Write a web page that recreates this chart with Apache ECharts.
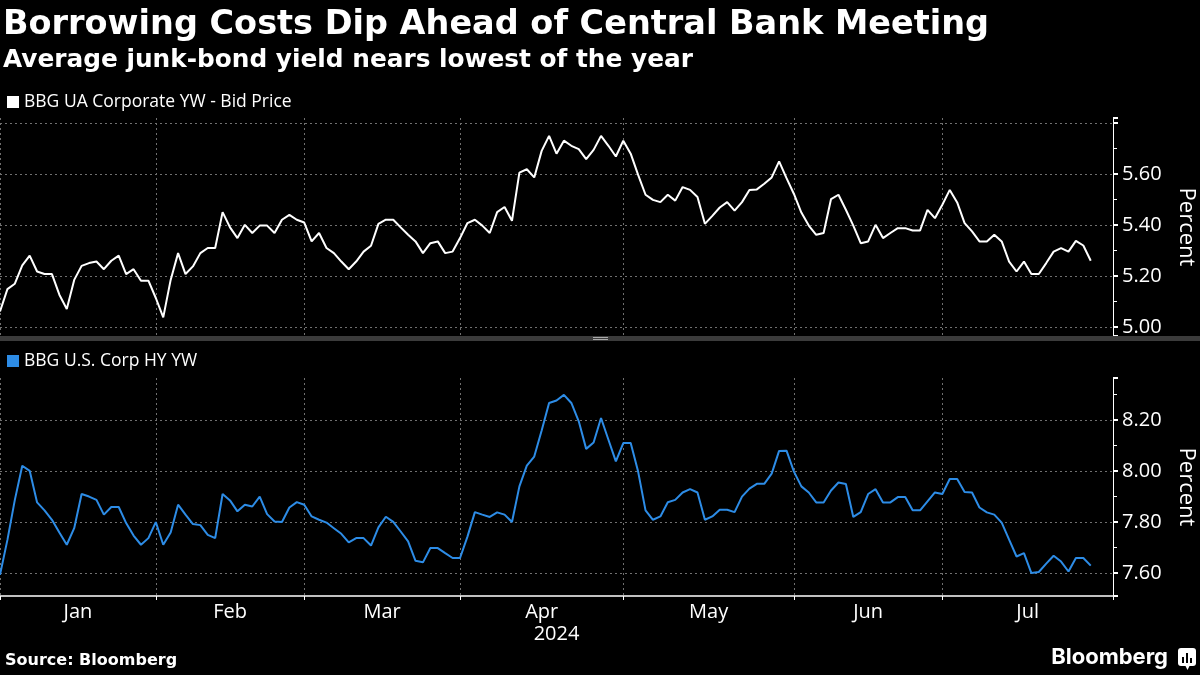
<!DOCTYPE html>
<html>
<head>
<meta charset="utf-8">
<script src="https://cdn.jsdelivr.net/npm/echarts@6/dist/echarts.min.js"></script>
<style>
html,body{margin:0;padding:0;background:#000;}
#chart{width:1200px;height:675px;}
</style>
</head>
<body>
<div id="chart"></div>
<script>
// ---------- data ----------
const chartTitle = 'Borrowing Costs Dip Ahead of Central Bank Meeting';
const chartSubtitle = 'Average junk-bond yield nears lowest of the year';
const sourceText = 'Source: Bloomberg';
const seriesNames = ['BBG UA Corporate YW - Bid Price', 'BBG U.S. Corp HY YW'];
const monthLabels = ['Jan', 'Feb', 'Mar', 'Apr', 'May', 'Jun', 'Jul'];
const yearLabel = '2024';
const topTickLabels = [5.0, 5.2, 5.4, 5.6];
const bottomTickLabels = [7.6, 7.8, 8.0, 8.2];
const holidays = ['2024-01-01', '2024-01-15', '2024-02-19', '2024-07-04'];
const axisDays = 151; // trading-day slots shown on the x axis

// BBG UA Corporate YW (percent), one value per trading day from 2 Jan 2024
const uaYield = [
  5.061, 5.149, 5.170, 5.242, 5.280, 5.218, 5.208, 5.208, 5.127, 5.071,
  5.185, 5.240, 5.251, 5.257, 5.227, 5.260, 5.280, 5.208, 5.227, 5.182,
  5.182, 5.114, 5.038, 5.185, 5.290, 5.208, 5.238, 5.290, 5.310, 5.310,
  5.451, 5.391, 5.349, 5.401, 5.369, 5.398, 5.398, 5.369, 5.421, 5.440,
  5.421, 5.410, 5.336, 5.369, 5.310, 5.290, 5.257, 5.227, 5.257, 5.296,
  5.319, 5.405, 5.421, 5.421, 5.391, 5.362, 5.336, 5.290, 5.329, 5.336,
  5.290, 5.296, 5.349, 5.408, 5.421, 5.398, 5.369, 5.451, 5.471, 5.417,
  5.606, 5.619, 5.587, 5.691, 5.750, 5.680, 5.731, 5.711, 5.698, 5.659,
  5.695, 5.750, 5.711, 5.669, 5.731, 5.680, 5.597, 5.519, 5.499, 5.490,
  5.519, 5.496, 5.549, 5.538, 5.510, 5.405, 5.436, 5.469, 5.490, 5.457,
  5.490, 5.538, 5.540, 5.562, 5.587, 5.650, 5.584, 5.522, 5.449, 5.398,
  5.362, 5.369, 5.502, 5.519, 5.460, 5.398, 5.329, 5.336, 5.401, 5.349,
  5.369, 5.388, 5.388, 5.379, 5.379, 5.460, 5.427, 5.480, 5.538, 5.489,
  5.408, 5.375, 5.336, 5.336, 5.362, 5.336, 5.257, 5.218, 5.257, 5.208,
  5.208, 5.251, 5.296, 5.310, 5.296, 5.338, 5.320, 5.260
];

// BBG U.S. Corp HY YW (percent)
const hyYield = [
  7.593, 7.730, 7.887, 8.021, 8.001, 7.877, 7.846, 7.809, 7.759, 7.711,
  7.776, 7.910, 7.900, 7.887, 7.829, 7.859, 7.859, 7.796, 7.747, 7.711,
  7.737, 7.800, 7.711, 7.759, 7.868, 7.829, 7.792, 7.788, 7.750, 7.737,
  7.910, 7.885, 7.842, 7.868, 7.861, 7.900, 7.831, 7.802, 7.800, 7.857,
  7.878, 7.868, 7.822, 7.809, 7.798, 7.776, 7.754, 7.720, 7.737, 7.737,
  7.708, 7.779, 7.821, 7.801, 7.763, 7.724, 7.648, 7.642, 7.698, 7.698,
  7.678, 7.659, 7.659, 7.743, 7.839, 7.829, 7.820, 7.838, 7.829, 7.800,
  7.940, 8.021, 8.057, 8.159, 8.267, 8.277, 8.299, 8.267, 8.195, 8.087,
  8.112, 8.208, 8.123, 8.038, 8.110, 8.110, 7.998, 7.846, 7.809, 7.822,
  7.878, 7.887, 7.916, 7.929, 7.916, 7.809, 7.822, 7.848, 7.848, 7.839,
  7.900, 7.931, 7.950, 7.950, 7.990, 8.079, 8.080, 7.998, 7.940, 7.916,
  7.877, 7.877, 7.924, 7.955, 7.949, 7.820, 7.839, 7.910, 7.929, 7.877,
  7.877, 7.898, 7.898, 7.846, 7.846, 7.881, 7.916, 7.910, 7.969, 7.969,
  7.918, 7.916, 7.857, 7.838, 7.829, 7.798, 7.731, 7.665, 7.678, 7.600,
  7.604, 7.637, 7.668, 7.645, 7.606, 7.659, 7.659, 7.629
];

// ---------- trading-day calendar (categories) ----------
function buildTradingDays(startIso, count, skip) {
  const out = [];
  const d = new Date(startIso + 'T00:00:00Z');
  while (out.length < count) {
    const iso = d.toISOString().slice(0, 10);
    const wd = d.getUTCDay();
    if (wd !== 0 && wd !== 6 && skip.indexOf(iso) < 0) out.push(iso);
    d.setUTCDate(d.getUTCDate() + 1);
  }
  return out;
}
const tradingDays = buildTradingDays('2024-01-02', axisDays, holidays);
const lastIdx = tradingDays.length - 1;

const monthStarts = [];
tradingDays.forEach((iso, i) => {
  if (i === 0 || iso.slice(5, 7) !== tradingDays[i - 1].slice(5, 7)) monthStarts.push(i);
});
const monthTicks = monthStarts.slice(0, monthLabels.length).concat([lastIdx]);
const monthLabelPos = monthLabels.map((m, k) => (monthTicks[k] + monthTicks[k + 1]) / 2);

const uaData = uaYield.map((v, i) => [i, v]);
const hyData = hyYield.map((v, i) => [i, v]);

// ---------- styling ----------
const WHITE = '#ffffff';
const BLUE = '#2d8ce6';
const GRID_COLOR = '#707070';
const LABEL_FONT = 'Open Sans';
const TITLE_FONT = 'DejaVu Sans';

function xAxisFor(gridIndex, showLabels) {
  return {
    type: 'value',
    gridIndex: gridIndex,
    min: 0,
    max: lastIdx,
    axisLine: { show: showLabels, onZero: false, lineStyle: { color: WHITE, width: 1.5 } },
    axisTick: { show: showLabels, customValues: monthTicks, length: 4, lineStyle: { color: WHITE } },
    splitLine: { show: true, lineStyle: { color: GRID_COLOR, type: [2, 3], width: 1 } },
    axisLabel: {
      show: showLabels,
      customValues: monthLabelPos,
      color: WHITE,
      fontSize: 20,
      fontFamily: LABEL_FONT,
      margin: 6,
      formatter: function (v) {
        const k = monthLabelPos.findIndex(p => Math.abs(p - v) < 0.01);
        return k >= 0 ? monthLabels[k] : '';
      }
    },
    name: showLabels ? yearLabel : '',
    nameLocation: 'middle',
    nameGap: 28,
    nameTextStyle: { color: WHITE, fontSize: 20, fontFamily: LABEL_FONT }
  };
}

function yAxisFor(gridIndex, min, max, labelValues) {
  return {
    type: 'value',
    gridIndex: gridIndex,
    position: 'right',
    min: min,
    max: max,
    splitNumber: 4,
    axisLine: { show: true, onZero: false, lineStyle: { color: WHITE, width: 1 } },
    axisTick: { show: true, length: 5, lineStyle: { color: WHITE, width: 2 } },
    minorTick: { show: true, splitNumber: 2, length: 4, lineStyle: { color: WHITE, width: 1 } },
    splitLine: { show: true, showMinLine: false, showMaxLine: false, lineStyle: { color: GRID_COLOR, type: [2, 3], width: 1 } },
    axisLabel: {
      customValues: labelValues,
      color: WHITE,
      fontSize: 20,
      fontFamily: LABEL_FONT,
      margin: 9,
      formatter: v => Number(v).toFixed(2)
    },
    name: 'Percent',
    nameLocation: 'middle',
    nameRotate: -90,
    nameGap: 62,
    nameTextStyle: { color: WHITE, fontSize: 22, fontFamily: LABEL_FONT }
  };
}

const chart = echarts.init(document.getElementById('chart'), null, { renderer: 'canvas' });

const option = {
  backgroundColor: '#000000',
  animation: false,
  title: [
    { text: chartTitle, left: 3, top: 8, padding: 0,
      textStyle: { color: WHITE, fontSize: 33.5, fontWeight: 'bold', fontFamily: TITLE_FONT } },
    { text: chartSubtitle, left: 3, top: 48, padding: 0,
      textStyle: { color: WHITE, fontSize: 24.8, fontWeight: 'bold', fontFamily: TITLE_FONT } },
    { text: sourceText, left: 5, top: 653, padding: 0,
      textStyle: { color: WHITE, fontSize: 16, fontWeight: 'bold', fontFamily: TITLE_FONT } }
  ],
  legend: [
    { data: [seriesNames[0]], left: 7, top: 93, padding: 0, icon: 'rect', itemWidth: 12, itemHeight: 12, itemGap: 5,
      textStyle: { color: WHITE, fontSize: 17.5, fontFamily: LABEL_FONT }, selectedMode: false },
    { data: [seriesNames[1]], left: 7, top: 352, padding: 0, icon: 'rect', itemWidth: 12, itemHeight: 12, itemGap: 5,
      textStyle: { color: WHITE, fontSize: 17.5, fontFamily: LABEL_FONT }, selectedMode: false }
  ],
  grid: [
    { left: 0, right: 87, top: 118, height: 218, outerBoundsMode: 'none' },
    { left: 0, right: 87, top: 378, height: 218, outerBoundsMode: 'none' }
  ],
  xAxis: [xAxisFor(0, false), xAxisFor(1, true)],
  yAxis: [
    yAxisFor(0, 4.965, 5.82, topTickLabels),
    yAxisFor(1, 7.51, 8.365, bottomTickLabels)
  ],
  series: [
    { name: seriesNames[0], type: 'line', xAxisIndex: 0, yAxisIndex: 0, data: uaData,
      showSymbol: false, itemStyle: { color: WHITE }, lineStyle: { color: WHITE, width: 2 } },
    { name: seriesNames[1], type: 'line', xAxisIndex: 1, yAxisIndex: 1, data: hyData,
      showSymbol: false, itemStyle: { color: BLUE }, lineStyle: { color: BLUE, width: 2 } }
  ],
  graphic: [
    { type: 'rect', z: 100, shape: { x: 0, y: 336, width: 1200, height: 5 }, style: { fill: '#3b3b3b' } },
    { type: 'line', z: 101, shape: { x1: 593, y1: 337.5, x2: 608, y2: 337.5 }, style: { stroke: '#a8a8a8', lineWidth: 1 } },
    { type: 'line', z: 101, shape: { x1: 593, y1: 339.5, x2: 608, y2: 339.5 }, style: { stroke: '#a8a8a8', lineWidth: 1 } },
    { type: 'text', z: 100, style: { text: 'Bloomberg', x: 1168, y: 657, align: 'right', verticalAlign: 'middle',
      fill: WHITE, fontSize: 22, fontWeight: 'bold', fontFamily: 'Inter' } },
    { type: 'rect', z: 100, shape: { x: 1178, y: 648, width: 18, height: 18, r: 3 }, style: { fill: WHITE } },
    { type: 'polygon', z: 100, shape: { points: [[1185, 665], [1190, 665], [1187.5, 670]] }, style: { fill: WHITE } },
    { type: 'rect', z: 101, shape: { x: 1182, y: 657, width: 2, height: 6 }, style: { fill: '#000' } },
    { type: 'rect', z: 101, shape: { x: 1186, y: 653, width: 2, height: 10 }, style: { fill: '#000' } },
    { type: 'rect', z: 101, shape: { x: 1190, y: 658, width: 2, height: 5 }, style: { fill: '#000' } }
  ]
};

chart.setOption(option);
</script>
</body>
</html>
